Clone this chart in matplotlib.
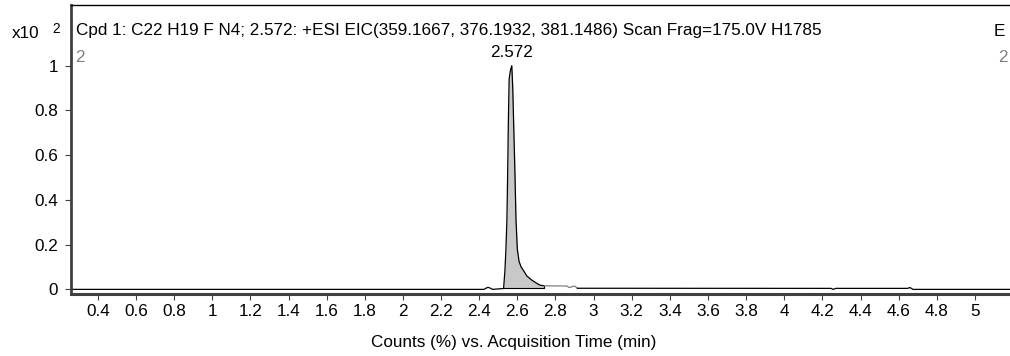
import numpy as np
import matplotlib.pyplot as plt

plt.rcParams['font.family'] = ['Liberation Sans', 'DejaVu Sans']

# trace (time in min, counts x10^2)
pre_t = [0.259, 2.425, 2.437, 2.447, 2.457, 2.47, 2.528]
pre_v = [0.0, 0.0, 0.006, 0.009, 0.006, 0.0, 0.004]

peak_t = [2.528, 2.535, 2.540, 2.545, 2.549, 2.553, 2.557, 2.564, 2.571, 2.576,
          2.582, 2.588, 2.593, 2.600, 2.609, 2.620, 2.631, 2.650, 2.675, 2.700,
          2.719, 2.741]
peak_v = [0.004, 0.086, 0.176, 0.30, 0.50, 0.75, 0.94, 0.98, 1.0, 0.90,
          0.70, 0.50, 0.31, 0.18, 0.125, 0.10, 0.086, 0.06, 0.042, 0.028,
          0.019, 0.016]

tail_t = [2.741, 2.86, 2.873, 2.887, 2.901, 2.915]
tail_v = [0.016, 0.015, 0.008, 0.012, 0.015, 0.005]

post_t = [2.915, 4.245, 4.257, 4.27, 4.645, 4.66, 4.675, 5.184]
post_v = [0.005, 0.0045, 0.0, 0.0045, 0.0045, 0.008, 0.0, 0.0]

xticks = [0.4, 0.6, 0.8, 1, 1.2, 1.4, 1.6, 1.8, 2, 2.2, 2.4, 2.6, 2.8, 3,
          3.2, 3.4, 3.6, 3.8, 4, 4.2, 4.4, 4.6, 4.8, 5]
yticks = [0, 0.2, 0.4, 0.6, 0.8, 1]

title = 'Cpd 1: C22 H19 F N4; 2.572: +ESI EIC(359.1667, 376.1932, 381.1486) Scan Frag=175.0V H1785'
peak_label = '2.572'

W, H = 1010, 356
FS = 12.3
fig = plt.figure(figsize=(W / 100, H / 100), dpi=100)
ax = fig.add_axes([71 / W, 1 - 294.3 / H, 1 - 71 / W, (294.3 - 5) / H])

ax.fill_between(peak_t, peak_v, 0.004, color='#c8c8c8', lw=0)
ax.plot(pre_t, pre_v, color='black', lw=0.9)
ax.plot(peak_t, peak_v, color='black', lw=0.9)
ax.plot([peak_t[0], peak_t[-1], peak_t[-1]], [0.004, 0.004, peak_v[-1]], color='black', lw=0.8)
ax.plot(tail_t, tail_v, color='#808080', lw=0.9)
ax.plot(post_t, post_v, color='black', lw=0.9)

ax.text(2.572, 1.025, peak_label, ha='center', va='bottom', fontsize=FS)

ax.set_xlim(0.259, 5.184)
ax.set_ylim(-0.022, 1.271)
ax.set_xticks(xticks)
ax.set_xticklabels(['{:g}'.format(x) for x in xticks])
ax.set_yticks(yticks)
ax.set_yticklabels(['{:g}'.format(y) for y in yticks])
ax.tick_params(axis='both', labelsize=FS, direction='out', length=4.5, width=0.8, color='#404040')
ax.tick_params(axis='x', pad=2.5)
ax.tick_params(axis='y', pad=5)

ax.spines['right'].set_visible(False)
ax.spines['top'].set_linewidth(1.0)
ax.spines['left'].set_linewidth(2.0)
ax.spines['left'].set_color('#404040')
ax.spines['bottom'].set_linewidth(2.2)
ax.spines['bottom'].set_color('#404040')

fig.text(514 / W, 1 - 343 / H, 'Counts (%) vs. Acquisition Time (min)', fontsize=FS,
         ha='center', va='center')

fig.text(12 / W, 1 - 34 / H, 'x10', fontsize=FS, va='center', ha='left')
fig.text(52 / W, 1 - 29 / H, '2', fontsize=FS * 0.8, va='center', ha='left')
fig.text(76 / W, 1 - 31 / H, title, fontsize=FS, va='center', ha='left')
fig.text(994 / W, 1 - 31 / H, 'E', fontsize=FS, va='center', ha='left')
fig.text(75 / W, 1 - 58 / H, '2', fontsize=FS, va='center', ha='left', color='#808080')
fig.text(998 / W, 1 - 58 / H, '2', fontsize=FS, va='center', ha='left', color='#808080')

fig.savefig('out.png', dpi=100)
